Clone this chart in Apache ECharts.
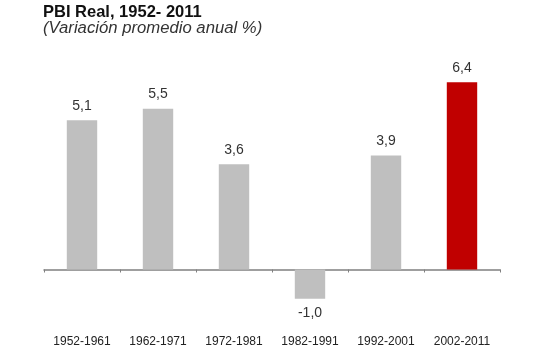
<!DOCTYPE html>
<html>
<head>
<meta charset="utf-8">
<script src="https://cdn.jsdelivr.net/npm/echarts@6/dist/echarts.min.js"></script>
<style>
html,body{margin:0;padding:0;background:#fff;}
#chart{width:550px;height:350px;}
</style>
</head>
<body>
<div id="chart"></div>
<script>
const categories = ['1952-1961','1962-1971','1972-1981','1982-1991','1992-2001','2002-2011'];
const values = [5.1, 5.5, 3.6, -1.0, 3.9, 6.4];
const barColors = ['#bfbfbf','#bfbfbf','#bfbfbf','#bfbfbf','#bfbfbf','#c00000'];

const chart = echarts.init(document.getElementById('chart'));
const font = '"Liberation Sans", Arial, sans-serif';
chart.setOption({
  animation: false,
  title: [
    {text: 'PBI Real, 1952- 2011', left: 38, top: -1,
     textStyle: {fontFamily: font, fontSize: 16.5, fontWeight: 'bold', color: '#111'}},
    {text: '(Variación promedio anual %)', left: 38, top: 15,
     textStyle: {fontFamily: font, fontSize: 16.7, fontStyle: 'italic', fontWeight: 'normal', color: '#333'}}
  ],
  grid: {left: 44, right: 50, top: 64.75, bottom: 22, containLabel: false, outerBoundsMode: 'none'},
  xAxis: [{
    type: 'category',
    data: categories,
    boundaryGap: true,
    axisLine: {onZero: true, lineStyle: {color: '#808080', width: 1.5}},
    axisTick: {show: true, length: 3, lineStyle: {color: '#808080'}},
    axisLabel: {show: false}
  }, {
    type: 'category',
    data: categories,
    position: 'bottom',
    boundaryGap: true,
    axisLine: {show: false, onZero: false},
    axisTick: {show: false},
    axisLabel: {show: true, margin: 8, fontFamily: font, fontSize: 12, color: '#222', interval: 0}
  }],
  yAxis: {
    type: 'value', min: -2, max: 7,
    show: false,
    splitLine: {show: false}
  },
  series: [{
    type: 'bar',
    barWidth: '40%',
    data: values.map((v, i) => ({
      value: v,
      itemStyle: {color: barColors[i]},
      label: {position: v < 0 ? 'bottom' : 'top'}
    })),
    label: {
      show: true, distance: 7,
      fontFamily: font, fontSize: 14, color: '#333',
      formatter: p => p.value.toFixed(1).replace('.', ',')
    }
  }]
});
</script>
</body>
</html>
